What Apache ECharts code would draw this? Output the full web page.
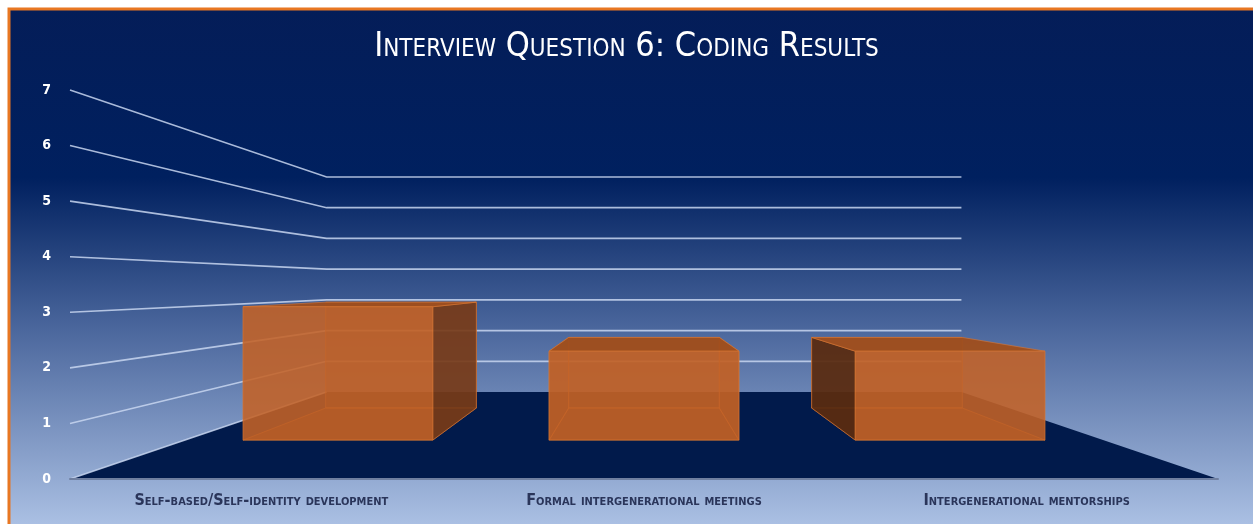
<!DOCTYPE html>
<html>
<head>
<meta charset="utf-8">
<script src="https://cdn.jsdelivr.net/npm/echarts@6/dist/echarts.min.js"></script>
<style>
  html, body { margin: 0; padding: 0; background: #fff; }
  #chart { width: 1253px; height: 524px; }
</style>
</head>
<body>
<div id="chart"></div>
<script>
// data
const categories = ['Self-based/Self-identity development', 'Formal intergenerational meetings', 'Intergenerational mentorships']
const counts = [3, 2, 2]
const yTicks = [0, 1, 2, 3, 4, 5, 6, 7]

// perspective: front plane = grid, everything shrinks toward grid centre
const BACK = 0.553      // scale of back wall
const BAR_FRONT = 0.8   // scale of bar front face
const BAR_BACK = 0.635  // scale of bar back face
const BAR_RATIO = 0.62
const FONT = "'DejaVu Sans Condensed', 'Liberation Sans Narrow', 'Open Sans', sans-serif"

const chart = echarts.init(document.getElementById('chart'))

function vp(params) {
  const r = params.coordSys
  return [r.x + r.width / 2, r.y + r.height / 2]
}
function proj(p, s, c) {
  return [c[0] + (p[0] - c[0]) * s, c[1] + (p[1] - c[1]) * s]
}

// floor trapezoid
function renderFloor(params, api) {
  const r = params.coordSys
  const c = vp(params)
  const fl = [r.x, r.y + r.height]
  const fr = [r.x + r.width, r.y + r.height]
  return {
    type: 'polygon',
    shape: { points: [fl, fr, proj(fr, BACK, c), proj(fl, BACK, c)] },
    style: { fill: '#011a4b' }
  }
}

// left wall + back wall grid lines
function renderGridLine(params, api) {
  const r = params.coordSys
  const c = vp(params)
  const y = api.coord([0, api.value(0)])[1]
  const a = [r.x, y]
  const b = proj(a, BACK, c)
  const d = proj([r.x + r.width, y], BACK, c)
  return {
    type: 'polyline',
    shape: { points: api.value(0) === 0 ? [a, b] : [a, b, d] },
    style: { stroke: 'rgba(200,214,240,0.85)', lineWidth: 1.6, fill: null }
  }
}

// 3d box bars
function renderBar(params, api) {
  const c = vp(params)
  const base = api.coord([api.value(0), 0])
  const top = api.coord([api.value(0), api.value(1)])
  const w = api.size([1, 0])[0] * BAR_RATIO
  const x0 = base[0] - w / 2, x1 = base[0] + w / 2
  const f = [[x0, top[1]], [x1, top[1]], [x1, base[1]], [x0, base[1]]].map(p => proj(p, BAR_FRONT, c))
  const k = [[x0, top[1]], [x1, top[1]], [x1, base[1]], [x0, base[1]]].map(p => proj(p, BAR_BACK, c))
  const edge = 'rgba(220,120,50,0.6)'
  const kids = []
  // back face + inner bottom
  kids.push({ type: 'polygon', shape: { points: k }, style: { fill: 'rgba(150,70,20,0.35)', stroke: edge, lineWidth: 1 } })
  kids.push({ type: 'polygon', shape: { points: [f[3], f[2], k[2], k[3]] }, style: { fill: 'rgba(140,65,20,0.45)', stroke: edge, lineWidth: 1 } })
  // side faces
  if (x1 < c[0]) {
    kids.push({ type: 'polygon', shape: { points: [f[1], k[1], k[2], f[2]] }, style: { fill: 'rgba(118,58,24,0.88)', stroke: edge, lineWidth: 1 } })
  } else if (x0 > c[0]) {
    kids.push({ type: 'polygon', shape: { points: [f[0], k[0], k[3], f[3]] }, style: { fill: 'rgba(88,42,16,0.9)', stroke: edge, lineWidth: 1 } })
  } else {
    kids.push({ type: 'polygon', shape: { points: [f[1], k[1], k[2], f[2]] }, style: { fill: 'rgba(150,70,20,0.4)', stroke: edge, lineWidth: 1 } })
    kids.push({ type: 'polygon', shape: { points: [f[0], k[0], k[3], f[3]] }, style: { fill: 'rgba(150,70,20,0.4)', stroke: edge, lineWidth: 1 } })
  }
  // top
  kids.push({ type: 'polygon', shape: { points: [f[0], f[1], k[1], k[0]] }, style: { fill: 'rgba(160,78,28,0.95)', stroke: edge, lineWidth: 1 } })
  // front
  kids.push({ type: 'polygon', shape: { points: f }, style: { fill: 'rgba(196,98,38,0.88)', stroke: edge, lineWidth: 1 } })
  return { type: 'group', children: kids }
}

const option = {
  backgroundColor: '#ffffff',
  animation: false,
  graphic: [
    {
      type: 'rect', z: -10, silent: true,
      shape: { x: 9, y: 9, width: 1260, height: 530 },
      style: {
        stroke: '#e87722', lineWidth: 3,
        fill: new echarts.graphic.LinearGradient(0, 0, 0, 1, [
          { offset: 0, color: '#041d58' },
          { offset: 0.32, color: '#00205f' },
          { offset: 0.6, color: '#4a669c' },
          { offset: 1, color: '#b2c7e9' }
        ])
      }
    }
  ],
  title: {
    text: 'Interview Question 6: Coding Results',
    left: 'center',
    top: 25,
    textStyle: {
      color: '#ffffff',
      fontSize: 34,
      fontWeight: 'normal',
      fontStyle: 'small-caps',
      fontFamily: FONT
    }
  },
  grid: { left: 70, right: 35, top: 90, bottom: 45 },
  xAxis: {
    type: 'category',
    data: categories,
    axisTick: { show: false },
    axisLine: { show: true, lineStyle: { color: '#6f7fa0', width: 2 } },
    axisLabel: {
      margin: 14,
      color: '#2a355a',
      fontSize: 16,
      fontWeight: 'bold',
      fontStyle: 'small-caps',
      fontFamily: FONT
    },
    z: 5
  },
  yAxis: {
    type: 'value',
    min: 0,
    max: 7,
    interval: 1,
    axisLine: { show: false },
    axisTick: { show: false },
    splitLine: { show: false },
    axisLabel: { margin: 19, color: '#ffffff', fontSize: 14, fontWeight: 'bold', fontFamily: FONT }
  },
  series: [
    { type: 'custom', renderItem: renderFloor, data: [[0]], silent: true, z: 1 },
    { type: 'custom', renderItem: renderGridLine, data: yTicks.map(v => [v]), silent: true, z: 2 },
    { type: 'custom', renderItem: renderBar, data: counts.map((v, i) => [i, v]), z: 3 }
  ]
}
chart.setOption(option)
</script>
</body>
</html>
